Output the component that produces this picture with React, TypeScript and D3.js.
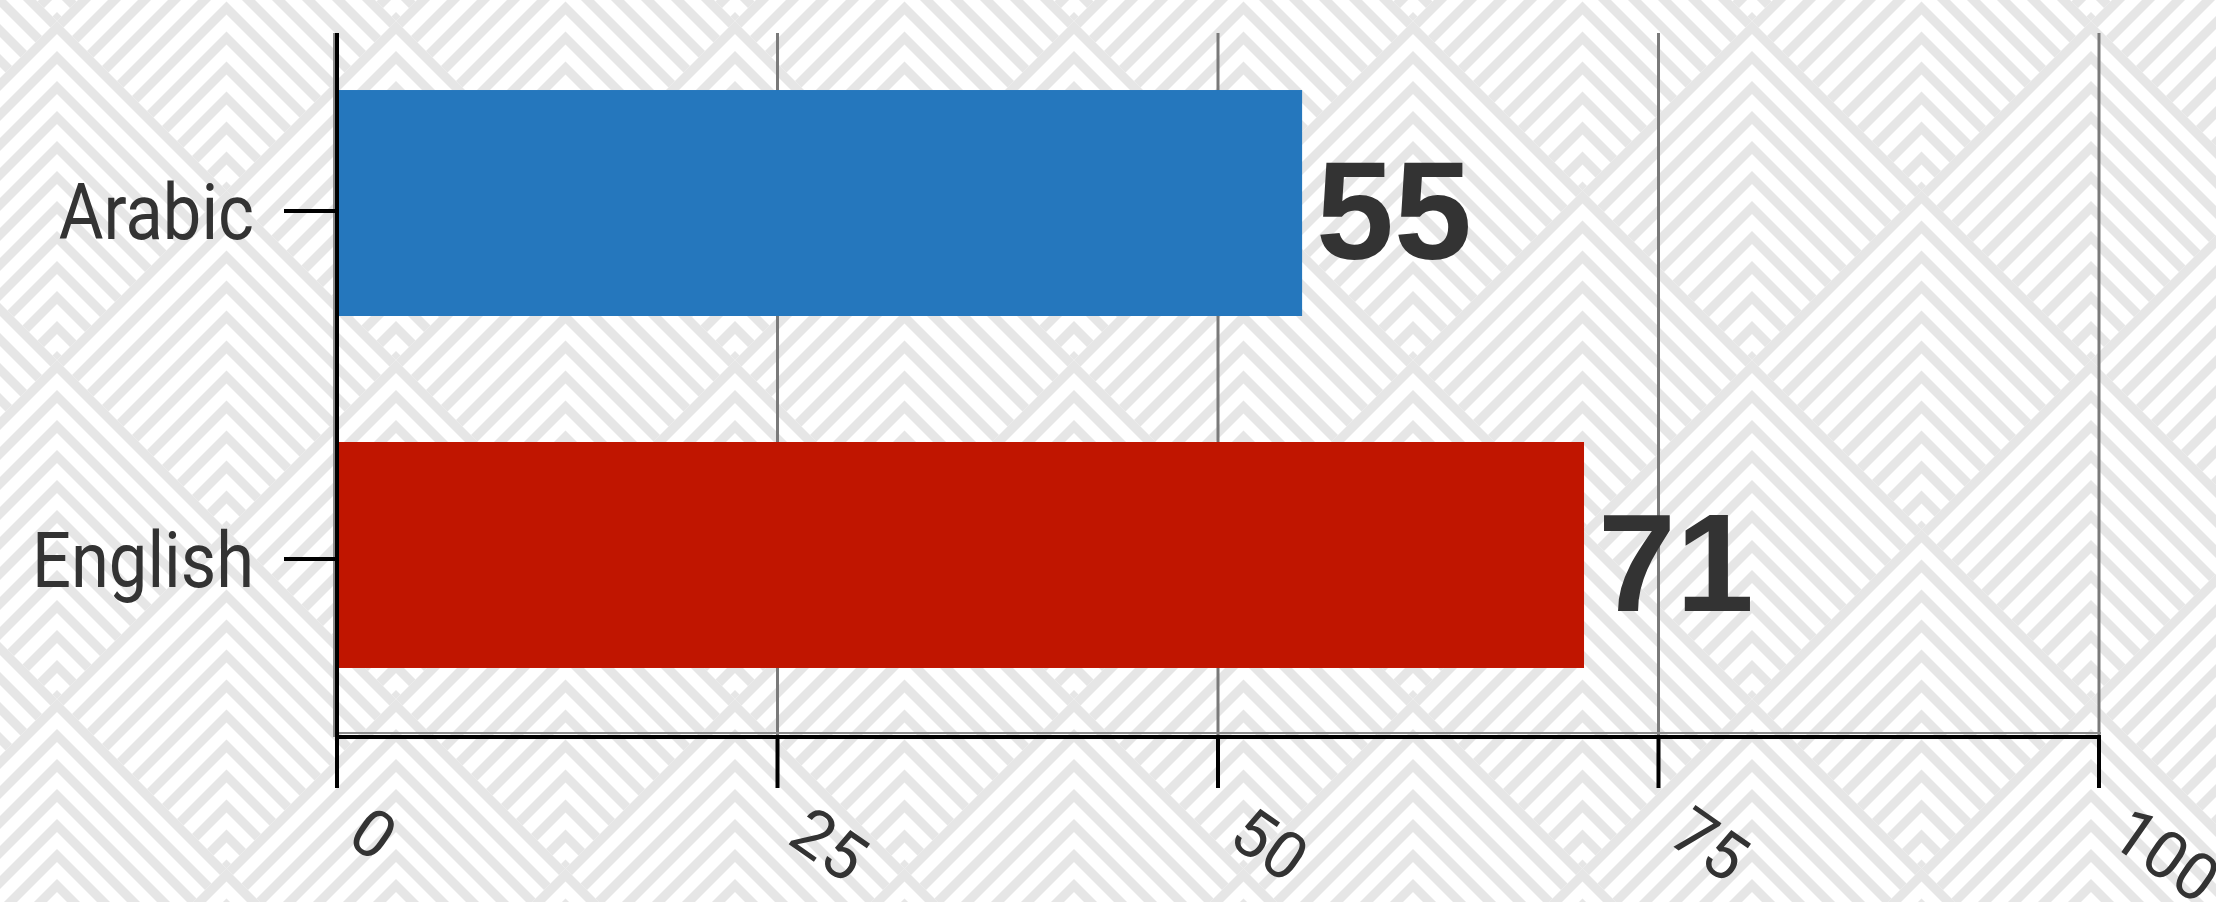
import React from "react";
import * as d3 from "d3";

const categories = ["Arabic", "English"];
const values = [55, 71];
const barColors = ["#2577BD", "#C01500"];
const xTicks = [0, 25, 50, 75, 100];

const WIDTH = 2216;
const HEIGHT = 902;

// background pattern geometry
const CELL = 339;
const STRIPE_P = 30;
const STRIPE_T = 13;

function chevronPolys(cx: number, cy: number): string[] {
  const out: string[] = [];
  const H = CELL;
  for (let k = 0; k * STRIPE_P < H; k++) {
    const a = k * STRIPE_P;
    const b = Math.min(a + STRIPE_T, H);
    const ox = (H - a) / 2;
    const oy = (H + a) / 2;
    const ix = (H - b) / 2;
    const iy = (H + b) / 2;
    const pts: [number, number][] = [
      [0, a],
      [ox, oy],
      [ix, iy],
      [0, b],
      [-ix, iy],
      [-ox, oy],
    ];
    out.push(pts.map(([x, y]) => `${(cx + x).toFixed(2)},${(cy + y).toFixed(2)}`).join(" "));
  }
  return out;
}

export default function App() {
  const left = 337;
  const right = 2099;
  const top = 33;
  const bottom = 737;

  const x = d3.scaleLinear().domain([0, 100]).range([left, right]);
  const yBar = d3
    .scaleBand<string>()
    .domain(categories)
    .range([top, 725])
    .paddingInner(0.358)
    .paddingOuter(0.162);
  const yTick = d3.scalePoint<string>().domain(categories).range([37, 733]).padding(0.5);

  const cells: [number, number][] = [
    [CELL / 2, -CELL / 2],
    [0, 0],
    [CELL, 0],
    [CELL / 2, CELL / 2],
  ];

  return (
    <svg
      width={WIDTH}
      height={HEIGHT}
      style={{ position: "absolute", left: 0, top: 0, display: "block" }}
    >
      <defs>
        <pattern
          id="chev"
          patternUnits="userSpaceOnUse"
          x={57}
          y={21}
          width={CELL}
          height={CELL}
        >
          <rect width={CELL} height={CELL} fill="#ffffff" />
          {cells.map(([cx, cy], i) =>
            chevronPolys(cx, cy).map((p, j) => (
              <polygon key={`${i}-${j}`} points={p} fill="#e6e6e6" />
            ))
          )}
        </pattern>
      </defs>
      <rect width={WIDTH} height={HEIGHT} fill="url(#chev)" />

      {/* grid lines */}
      {xTicks.slice(1).map((t) => (
        <line
          key={`g${t}`}
          x1={x(t)}
          x2={x(t)}
          y1={top}
          y2={bottom}
          stroke="#7a7a7a"
          strokeWidth={3}
        />
      ))}

      {/* bars */}
      {categories.map((c, i) => (
        <rect
          key={c}
          x={x(0)}
          y={yBar(c)!}
          width={x(values[i]) - x(0) - 4}
          height={yBar.bandwidth()}
          fill={barColors[i]}
        />
      ))}

      {/* value labels */}
      {categories.map((c, i) => (
        <text
          key={`v${c}`}
          x={x(values[i]) + 10}
          y={yBar(c)! + yBar.bandwidth() / 2 + 56}
          fontFamily="'Liberation Sans', Arial, sans-serif"
          fontWeight="bold"
          fontSize={140}
          fill="#333333"
        >
          {values[i]}
        </text>
      ))}

      {/* axes */}
      <line x1={left - 3} x2={left - 3} y1={top} y2={bottom} stroke="#8c8c8c" strokeWidth={2} />
      <line x1={left} x2={right + 2} y1={bottom - 4} y2={bottom - 4} stroke="#8c8c8c" strokeWidth={2} />
      <line x1={left} x2={left} y1={top} y2={bottom + 2} stroke="#000" strokeWidth={4} />
      <line x1={left - 2} x2={right + 2} y1={bottom} y2={bottom} stroke="#000" strokeWidth={4} />

      {/* x ticks */}
      {xTicks.map((t) => (
        <g key={`xt${t}`}>
          <line x1={x(t)} x2={x(t)} y1={bottom} y2={bottom + 51} stroke="#000" strokeWidth={4} />
          <text
            transform={`translate(${x(t) + 8},${bottom + 105}) rotate(35)`}
            fontFamily="Roboto, sans-serif"
            fontSize={66}
            fill="#333333"
          >
            {t}
          </text>
        </g>
      ))}

      {/* y ticks */}
      {categories.map((c) => (
        <g key={`yt${c}`}>
          <line x1={left - 53} x2={left} y1={yTick(c)!} y2={yTick(c)!} stroke="#000" strokeWidth={4} />
          <text
            transform={`translate(${left - 83},${yTick(c)! + 28}) scale(0.88,1)`}
            textAnchor="end"
            fontFamily="Roboto, sans-serif"
            fontSize={78}
            fill="#333333"
          >
            {c}
          </text>
        </g>
      ))}
    </svg>
  );
}
